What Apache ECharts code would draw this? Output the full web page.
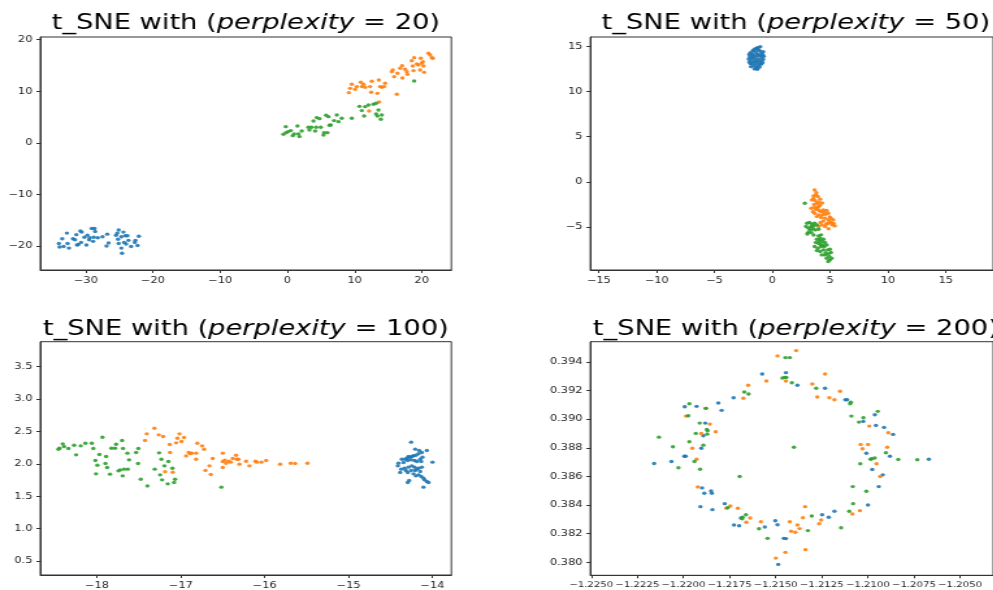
<!DOCTYPE html>
<html>
<head>
<meta charset="utf-8">
<script src="https://cdn.jsdelivr.net/npm/echarts@6.0.0/dist/echarts.min.js"></script>
<style>
  html, body { margin: 0; padding: 0; overflow: hidden; background: #fff; }
  /* the source figure is stretched sideways, so draw narrow and widen it */
  #chart { width: 764px; height: 590px; transform: scaleX(1.3); transform-origin: 0 0; }
</style>
</head>
<body>
<div id="chart"></div>
<script>
// perplexity = 20
const p20Blue = [[-34.0,-19.5],[-33.9,-20.2],[-33.5,-18.6],[-33.3,-20.1],[-32.8,-17.5],[-32.7,-19.5],[-32.5,-20.4],[-31.9,-18.6],[-31.6,-18.8],[-31.4,-17.8],[-31.3,-19.8],[-31.1,-19.7],[-30.8,-17.1],[-30.6,-17.3],[-30.7,-19.3],[-30.2,-18.3],[-29.9,-19.8],[-29.75,-17.9],[-29.5,-18.8],[-29.4,-18.4],[-29.1,-16.6],[-28.7,-16.6],[-28.6,-17.2],[-28.8,-18.3],[-28.9,-19.1],[-28.2,-18.4],[-27.5,-18.2],[-26.8,-17.7],[-26.9,-20.0],[-26.6,-19.4],[-25.3,-17.5],[-25.1,-16.9],[-25.2,-18.7],[-25.1,-19.5],[-24.7,-20.4],[-24.6,-21.4],[-24.4,-17.3],[-24.3,-19.3],[-24.1,-18.0],[-24.0,-19.6],[-23.8,-18.0],[-23.65,-18.9],[-23.25,-20.1],[-22.7,-19.3],[-22.6,-18.9],[-22.3,-19.9],[-22.1,-18.1],[-24.7,-18.2],[-25.5,-17.9]];
const p20Orange = [[9.14,9.73],[9.33,10.57],[9.58,11.35],[10.08,10.38],[10.33,10.90],[10.92,11.74],[11.07,10.90],[11.32,11.35],[11.57,10.77],[12.31,10.90],[12.46,9.80],[12.56,11.93],[13.40,9.60],[13.60,12.19],[13.80,10.90],[14.05,10.77],[14.39,10.90],[14.54,11.54],[16.28,9.41],[12.16,6.18],[13.65,7.92],[15.54,13.80],[15.68,14.13],[15.88,12.83],[16.38,13.48],[16.78,14.45],[17.07,14.97],[17.12,12.58],[17.52,14.26],[17.77,13.80],[17.87,13.29],[18.51,15.93],[18.66,14.90],[18.76,14.00],[18.86,16.52],[19.26,15.29],[19.50,15.10],[19.75,14.13],[19.85,16.39],[20.00,15.42],[20.25,14.90],[20.35,13.67],[20.99,17.36],[21.24,17.03],[21.49,16.52],[21.64,16.39],[20.15,15.74]];
const p20Green = [[-0.59,1.66],[-0.19,1.98],[-0.24,3.14],[0.11,2.18],[0.51,2.37],[0.80,1.40],[1.00,1.72],[1.50,3.27],[1.65,1.72],[1.80,1.21],[2.14,2.30],[3.13,3.01],[3.28,2.50],[3.58,3.01],[3.88,4.24],[4.13,2.30],[4.28,3.01],[4.37,4.89],[4.77,4.69],[4.97,3.01],[5.37,1.53],[5.47,1.98],[5.76,5.34],[5.96,1.98],[6.11,5.08],[6.26,3.40],[6.46,3.47],[6.95,4.31],[7.35,5.41],[7.60,4.11],[8.09,4.76],[9.58,4.76],[10.72,7.08],[11.07,6.25],[11.42,5.21],[11.57,7.02],[12.06,7.34],[12.81,7.47],[13.20,7.67],[13.20,5.60],[13.40,5.21],[13.55,6.37],[14.05,5.41],[13.90,4.57],[18.86,11.99]];

// perplexity = 50
const p50Blue = [[-1.05,14.95],[-1.35,14.8],[-1.5,14.7],[-1.25,14.6],[-1.7,14.5],[-1.1,14.5],[-1.9,14.3],[-1.45,14.35],[-0.95,14.3],[-2.0,14.1],[-1.75,14.15],[-1.3,14.15],[-0.85,14.1],[-1.6,14.0],[-1.05,13.95],[-0.75,13.9],[-1.95,13.85],[-1.4,13.85],[-0.9,13.75],[-1.75,13.7],[-2.05,13.6],[-1.55,13.6],[-1.2,13.6],[-0.8,13.55],[-1.85,13.45],[-1.35,13.4],[-1.0,13.4],[-2.0,13.25],[-1.65,13.25],[-1.2,13.2],[-0.85,13.2],[-1.8,13.05],[-1.45,13.05],[-1.05,13.0],[-1.6,12.85],[-1.25,12.85],[-1.85,12.75],[-1.4,12.65],[-1.1,12.7],[-1.55,12.5],[-1.3,12.45],[-1.7,13.9],[-1.15,14.0],[-1.5,13.3],[-0.95,13.05],[-1.25,14.85],[-1.6,14.6],[-1.35,12.55],[-1.9,13.1],[-0.8,14.4]];
const p50Orange = [[3.65,-0.90],[3.56,-1.56],[3.76,-1.45],[3.93,-1.63],[3.42,-2.00],[3.70,-2.08],[3.84,-2.37],[4.13,-1.93],[3.36,-2.92],[3.65,-2.81],[3.99,-2.74],[4.21,-3.29],[3.99,-3.66],[4.32,-3.66],[4.49,-3.40],[4.69,-3.18],[4.83,-3.48],[4.55,-4.03],[4.83,-4.21],[5.06,-4.03],[5.26,-4.21],[5.17,-4.77],[5.40,-4.88],[4.27,-4.77],[3.99,-4.95],[4.55,-4.95],[4.97,-4.40],[4.78,-4.58],[3.65,-3.48],[3.84,-3.85],[3.80,-1.20],[3.55,-1.85],[4.00,-2.25],[3.60,-2.50],[4.10,-2.60],[3.75,-3.05],[4.40,-3.10],[4.05,-3.20],[4.60,-3.60],[4.20,-3.95],[4.95,-3.90],[4.40,-4.35],[5.10,-4.55],[4.65,-4.70],[3.90,-2.95],[4.30,-2.35],[3.50,-3.30],[5.30,-4.60],[4.85,-5.20],[4.15,-4.50]];
const p50Green = [[2.80,-2.37],[2.99,-4.58],[3.19,-4.51],[3.42,-4.66],[3.65,-4.58],[2.91,-4.95],[3.14,-5.14],[3.36,-4.95],[3.56,-4.88],[3.84,-4.77],[3.08,-5.62],[3.36,-5.62],[3.70,-5.32],[3.99,-5.25],[3.02,-5.77],[3.56,-5.88],[3.99,-5.98],[4.21,-5.87],[3.84,-6.35],[4.13,-6.24],[4.41,-6.35],[3.76,-6.72],[3.99,-6.80],[4.27,-6.61],[4.55,-6.72],[3.65,-7.16],[3.93,-7.35],[4.21,-7.16],[4.49,-7.16],[4.69,-6.98],[3.84,-7.61],[4.13,-7.72],[4.41,-7.53],[4.78,-7.53],[4.97,-7.46],[4.27,-8.09],[4.55,-8.09],[4.83,-7.98],[5.06,-7.83],[4.69,-8.46],[4.97,-8.64],[5.12,-8.46],[4.83,-8.82],[3.25,-5.35],[4.05,-6.50],[4.35,-7.00],[4.60,-7.85],[4.90,-8.25],[3.50,-5.20],[4.15,-6.95]];

// perplexity = 100
const p100Blue = [[-14.253,2.335],[-14.205,2.227],[-14.157,2.206],[-14.125,2.175],[-14.066,2.206],[-14.165,2.155],[-14.197,2.134],[-14.225,2.124],[-14.245,2.113],[-14.265,2.103],[-14.285,2.113],[-14.304,2.088],[-14.324,2.072],[-14.364,2.072],[-14.404,2.011],[-14.412,1.969],[-14.344,2.021],[-14.293,2.052],[-14.253,2.062],[-14.213,2.052],[-14.185,2.036],[-14.145,2.072],[-14.133,2.036],[-14.118,2.103],[-13.998,2.026],[-14.372,1.918],[-14.384,1.867],[-14.332,1.933],[-14.316,1.897],[-14.285,1.949],[-14.245,1.969],[-14.253,1.897],[-14.213,1.949],[-14.205,1.897],[-14.185,1.918],[-14.165,1.933],[-14.145,1.882],[-14.125,1.949],[-14.293,1.867],[-14.225,1.846],[-14.197,1.815],[-14.165,1.830],[-14.133,1.805],[-14.277,1.743],[-14.293,1.712],[-14.106,1.779],[-14.094,1.753],[-14.066,1.728],[-14.046,1.712],[-14.106,1.640]];
const p100Orange = [[-17.427,2.360],[-17.407,2.463],[-17.316,2.550],[-17.264,2.448],[-17.212,2.422],[-17.133,2.298],[-17.129,2.175],[-17.057,2.324],[-17.041,2.396],[-17.017,2.463],[-16.993,2.345],[-16.962,2.406],[-16.938,2.123],[-16.906,2.175],[-16.890,2.159],[-16.870,2.165],[-16.818,2.165],[-16.803,2.319],[-16.818,2.072],[-17.188,1.877],[-17.097,1.871],[-16.747,2.278],[-16.723,2.226],[-16.707,1.897],[-16.659,1.969],[-16.643,1.835],[-16.620,2.082],[-16.500,2.165],[-16.500,2.036],[-16.500,1.943],[-16.476,2.057],[-16.460,2.010],[-16.429,2.041],[-16.405,2.026],[-16.381,2.082],[-16.341,2.134],[-16.333,2.072],[-16.313,2.072],[-16.301,1.995],[-16.222,2.041],[-16.182,1.969],[-16.110,2.041],[-16.094,2.026],[-16.039,2.026],[-15.983,2.051],[-15.816,1.995],[-15.689,2.010],[-15.637,2.005],[-15.490,2.010]];
const p100Green = [[-18.461,2.226],[-18.449,2.242],[-18.410,2.309],[-18.394,2.267],[-18.342,2.237],[-18.274,2.288],[-18.250,2.139],[-18.195,2.278],[-18.139,2.319],[-18.063,2.319],[-18.044,2.237],[-18.020,2.051],[-17.996,1.979],[-18.012,1.846],[-17.972,2.144],[-17.936,2.411],[-17.900,2.005],[-17.892,2.113],[-17.880,1.943],[-17.845,1.841],[-17.829,2.242],[-17.785,2.242],[-17.773,2.303],[-17.745,1.892],[-17.725,1.907],[-17.701,2.360],[-17.694,1.815],[-17.690,2.237],[-17.678,1.918],[-17.638,2.165],[-17.634,1.918],[-17.618,2.062],[-17.534,2.175],[-17.507,2.237],[-17.511,2.005],[-17.479,1.763],[-17.399,1.660],[-17.312,1.918],[-17.260,2.170],[-17.248,1.830],[-17.232,2.072],[-17.224,1.753],[-17.196,1.969],[-17.157,1.691],[-17.149,2.036],[-17.101,1.933],[-17.081,1.712],[-17.069,1.763],[-16.517,1.640]];

// perplexity = 200
const p200Blue = [[-1.21573,0.39315],[-1.21444,0.39324],[-1.21382,0.39236],[-1.21232,0.39215],[-1.21122,0.39135],[-1.21112,0.39135],[-1.21728,0.39149],[-1.21811,0.39112],[-1.21793,0.39061],[-1.21993,0.39086],[-1.21929,0.39089],[-1.21882,0.38972],[-1.21892,0.38884],[-1.21903,0.38797],[-1.21995,0.38741],[-1.21988,0.38741],[-1.22065,0.38704],[-1.22159,0.38690],[-1.20962,0.39030],[-1.21025,0.38984],[-1.20956,0.38956],[-1.20912,0.38942],[-1.20863,0.38893],[-1.21008,0.38762],[-1.20880,0.38741],[-1.20669,0.38720],[-1.20976,0.38648],[-1.20919,0.38611],[-1.21899,0.38520],[-1.21850,0.38499],[-1.21846,0.38483],[-1.21887,0.38483],[-1.21908,0.38389],[-1.21843,0.38368],[-1.21776,0.38410],[-1.21688,0.38310],[-1.21726,0.38261],[-1.21698,0.38256],[-1.21559,0.38247],[-1.21502,0.38291],[-1.21490,0.38263],[-1.21456,0.38168],[-1.21444,0.38166],[-1.21486,0.37986],[-1.21248,0.38333],[-1.21212,0.38315],[-1.21181,0.38357],[-1.20999,0.38401],[-1.20941,0.38529]];
const p200Orange = [[-1.21389,0.39478],[-1.21490,0.39441],[-1.21444,0.39266],[-1.21550,0.39266],[-1.21232,0.39315],[-1.21301,0.39245],[-1.21151,0.39194],[-1.21274,0.39154],[-1.21209,0.39149],[-1.21181,0.39135],[-1.21649,0.39236],[-1.21675,0.39145],[-1.21876,0.39075],[-1.21986,0.39021],[-1.21857,0.38965],[-1.21903,0.38900],[-1.21825,0.38912],[-1.21952,0.38797],[-1.21929,0.38720],[-1.20992,0.38951],[-1.20889,0.38905],[-1.21039,0.38823],[-1.20999,0.38823],[-1.21029,0.38793],[-1.20895,0.38804],[-1.20953,0.38688],[-1.20933,0.38599],[-1.21922,0.38527],[-1.21746,0.38394],[-1.21767,0.38378],[-1.21705,0.38378],[-1.21638,0.38310],[-1.21659,0.38280],[-1.21580,0.38284],[-1.21447,0.38070],[-1.21499,0.38030],[-1.21340,0.38389],[-1.21423,0.38284],[-1.21352,0.38312],[-1.21253,0.38296],[-1.21264,0.38270],[-1.21382,0.38261],[-1.21370,0.38236],[-1.21416,0.38217],[-1.21393,0.38210],[-1.21338,0.38089],[-1.21084,0.38338],[-1.21043,0.38361]];
const p200Green = [[-1.21447,0.39429],[-1.21423,0.39429],[-1.21463,0.39287],[-1.21451,0.39291],[-1.21442,0.39291],[-1.21412,0.39254],[-1.21280,0.39215],[-1.21092,0.39117],[-1.21096,0.39107],[-1.21670,0.39189],[-1.21647,0.39175],[-1.21968,0.39107],[-1.21880,0.39075],[-1.21974,0.39023],[-1.21912,0.38972],[-1.21933,0.38900],[-1.21873,0.38928],[-1.21869,0.38918],[-1.21871,0.38895],[-1.22133,0.38874],[-1.22057,0.38807],[-1.21968,0.38842],[-1.21892,0.38818],[-1.21940,0.38704],[-1.22027,0.38660],[-1.21910,0.38650],[-1.21695,0.38599],[-1.21401,0.38804],[-1.20946,0.39054],[-1.21089,0.39021],[-1.21024,0.39009],[-1.21048,0.38979],[-1.20902,0.38765],[-1.20979,0.38723],[-1.20963,0.38728],[-1.20985,0.38720],[-1.20835,0.38718],[-1.20732,0.38716],[-1.21041,0.38688],[-1.21760,0.38382],[-1.21661,0.38333],[-1.21679,0.38315],[-1.21682,0.38305],[-1.21590,0.38235],[-1.21544,0.38168],[-1.21304,0.38324],[-1.21325,0.38222],[-1.21145,0.38242],[-1.21101,0.38357],[-1.21080,0.38410],[-1.21082,0.38529],[-1.21008,0.38497]];

const perplexities = [20, 50, 100, 200];

// tick values for each panel
const p20XTicks = [-30, -20, -10, 0, 10, 20];
const p20YTicks = [-20, -10, 0, 10, 20];
const p50XTicks = [-15, -10, -5, 0, 5, 10, 15];
const p50YTicks = [-5, 0, 5, 10, 15];
const p100XTicks = [-18, -17, -16, -15, -14];
const p100YTicks = [0.5, 1.0, 1.5, 2.0, 2.5, 3.0, 3.5];
const p200XTicks = [-1.2250, -1.2225, -1.2200, -1.2175, -1.2150, -1.2125, -1.2100, -1.2075, -1.2050];
const p200YTicks = [0.380, 0.382, 0.384, 0.386, 0.388, 0.390, 0.392, 0.394];

const colors = ['#1f77b4', '#ff7f0e', '#2ca02c'];
const axisColor = '#333';
const font = 'DejaVu Sans';

const panels = [
  { series: [p20Blue, p20Orange, p20Green], x: [-36.76, 24.4, p20XTicks, 0], y: [-24.65, 20.52, p20YTicks, 0] },
  { series: [p50Blue, p50Orange, p50Green], x: [-15.74, 19.09, p50XTicks, 0], y: [-9.76, 16.03, p50YTicks, 0] },
  { series: [p100Blue, p100Orange, p100Green], x: [-18.677, -13.773, p100XTicks, 0], y: [0.284, 3.886, p100YTicks, 1] },
  { series: [p200Blue, p200Orange, p200Green], x: [-1.22505, -1.2032, p200XTicks, 4], y: [0.3791, 0.3954, p200YTicks, 3] }
];

// grid boxes, in the narrow (unstretched) coordinates
const grids = [
  { left: 31, top: 37, width: 316.2, height: 233 },
  { left: 454.1, top: 37, width: 316.2, height: 233 },
  { left: 31, top: 341.7, width: 316.2, height: 233.6 },
  { left: 454.1, top: 341.7, width: 316.2, height: 233.6 }
];
const titlePos = [[189.1, 24], [612.2, 24], [189.1, 329.5], [612.2, 329.5]];

function makeAxis(gridIndex, [min, max, ticks, digits]) {
  return {
    type: 'value',
    gridIndex,
    min,
    max,
    splitLine: { show: false },
    axisLine: { show: true, onZero: false, lineStyle: { color: axisColor, width: 1 } },
    axisTick: { show: true, length: 3, customValues: ticks, lineStyle: { color: axisColor } },
    axisLabel: {
      customValues: ticks,
      showMinLabel: true,
      showMaxLabel: true,
      margin: 6,
      fontFamily: font,
      // the long 4-digit labels sit edge to edge, keep them from being dropped
      fontSize: digits === 4 ? 7.8 : 8.8,
      color: '#262626',
      formatter: v => v.toFixed(digits).replace('-', '\u2212')
    }
  };
}

const chart = echarts.init(document.getElementById('chart'), null, { renderer: 'canvas' });

const option = {
  animation: false,
  backgroundColor: '#fff',
  grid: grids.map(g => ({ ...g, show: true, borderColor: axisColor, borderWidth: 1, containLabel: false })),
  xAxis: panels.map((p, i) => makeAxis(i, p.x)),
  yAxis: panels.map((p, i) => makeAxis(i, p.y)),
  series: panels.flatMap((p, i) => p.series.map((data, k) => ({
    type: 'scatter',
    xAxisIndex: i,
    yAxisIndex: i,
    data,
    symbolSize: 3.4,
    itemStyle: { color: colors[k], opacity: 0.9 },
    silent: true
  }))),
  graphic: perplexities.map((p, i) => ({
    type: 'text',
    x: titlePos[i][0],
    y: titlePos[i][1],
    style: {
      text: '{n|t_SNE with (}{it|perplexity}{n| = ' + p + ')}',
      align: 'center',
      verticalAlign: 'middle',
      fill: '#000',
      rich: {
        n: { fontFamily: font, fontSize: 21, fill: '#000' },
        it: { fontFamily: font, fontStyle: 'italic', fontSize: 21, fill: '#000' }
      }
    }
  }))
};

chart.setOption(option);
</script>
</body>
</html>
